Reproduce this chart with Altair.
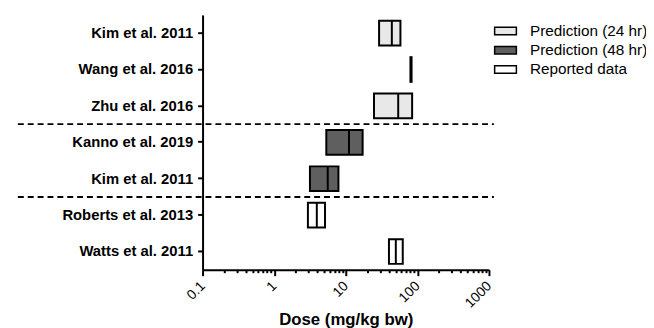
import altair as alt
import pandas as pd

NB = "\u00a0"
# Data
studies = ["Kim et al. 2011" + NB + "|24", "Wang et al. 2016" + NB + "|24", "Zhu et al. 2016|24",
           "Kanno et al. 2019" + NB + "|48", "Kim et al. 2011" + NB + "|48",
           "Roberts et al. 2013|rep", "Watts et al. 2011|rep"]
groups = ["Prediction (24 hr)", "Prediction (24 hr)", "Prediction (24 hr)",
          "Prediction (48 hr)", "Prediction (48 hr)",
          "Reported data", "Reported data"]
low = [29.2, 80.0, 24.8, 5.35, 3.16, 2.96, 40.1]
median = [44.0, 81.5, 54.0, 11.1, 5.6, 3.94, 50.0]
high = [58.0, 83.0, 84.5, 17.2, 7.9, 5.13, 62.5]

group_order = ["Prediction (24 hr)", "Prediction (48 hr)", "Reported data"]
group_fill = ["#e8e8e8", "#5f5f5f", "#ffffff"]

separators_after = [studies[2], studies[4]]

decades = [0.1, 1, 10, 100, 1000]
tick_values = [d * m for d in decades[:-1] for m in range(1, 10)] + [1000]

df = pd.DataFrame({"study": studies, "group": groups,
                   "low": low, "median": median, "high": high})
sep = pd.DataFrame({"study": separators_after})

FONT = "Liberation Sans"

xscale = alt.Scale(type="log", domain=[0.1, 1000], nice=False)
yscale = alt.Scale(domain=studies, paddingInner=0, paddingOuter=0)

is_decade = "abs(log(datum.value)/LN10 - round(log(datum.value)/LN10)) < 1e-6"

x_axis = alt.Axis(
    values=tick_values,
    labelExpr=f"({is_decade}) ? (datum.value < 1 ? '0.1' : format(datum.value, 'd')) : ''",
    title="Dose (mg/kg bw)",
    titleFont=FONT, titleFontSize=17, titleFontWeight="bold", titleColor="black",
    titlePadding=1,
    labelFont=FONT, labelFontSize=14, labelColor="black",
    labelAngle=315, labelAlign="right", labelBaseline="middle", labelPadding=8,
    tickSize={"condition": {"test": is_decade, "value": 6}, "value": 3},
    tickWidth=2, tickColor="black", domainWidth=2, domainColor="black",
    grid=False, labelOverlap=False, labelFlush=False,
)

y_axis = alt.Axis(
    title=None,
    labelExpr="split(datum.value, '|')[0]",
    labelFont=FONT, labelFontSize=15, labelFontWeight="bold", labelColor="black",
    labelPadding=5, tickSize=5, tickWidth=2, tickColor="black",
    domainWidth=2, domainColor="black", grid=False,
)

legend = alt.Legend(
    title=None, orient="none", legendX=299, legendY=8.5, padding=0,
    symbolType="M-2.2,-0.75H2.2V0.75H-2.2Z", symbolSize=100,
    symbolStrokeColor="black", symbolStrokeWidth=1.5,
    labelFont=FONT, labelFontSize=15.5, labelColor="black", labelOffset=17,
    rowPadding=2.5, labelLimit=200,
)

bars = alt.Chart(df).mark_bar(size=25, stroke="black", strokeWidth=2).encode(
    x=alt.X("low:Q", scale=xscale, axis=x_axis),
    x2="high:Q",
    y=alt.Y("study:N", scale=yscale, axis=y_axis, sort=studies),
    fill=alt.Fill("group:N", scale=alt.Scale(domain=group_order, range=group_fill),
                  legend=legend),
)

medians = alt.Chart(df).mark_tick(size=25, thickness=2, color="black", opacity=1).encode(
    x=alt.X("median:Q", scale=xscale, axis=x_axis),
    y=alt.Y("study:N", scale=yscale, axis=y_axis, sort=studies),
)

rules = alt.Chart(sep).mark_rule(color="black", strokeWidth=2, strokeDash=[6, 4], clip=False).encode(
    y=alt.Y("study:N", scale=yscale, axis=y_axis, sort=studies, bandPosition=1),
    x=alt.value(-187),
    x2=alt.value(295),
)

chart = alt.layer(bars, medians, rules).properties(
    width=290, height=258, autosize="none",
    padding={"left": 197, "top": 5, "right": 159, "bottom": 57},
).configure_view(stroke=None)

chart.save("out.html", embed_options={"renderer": "svg", "actions": False})
